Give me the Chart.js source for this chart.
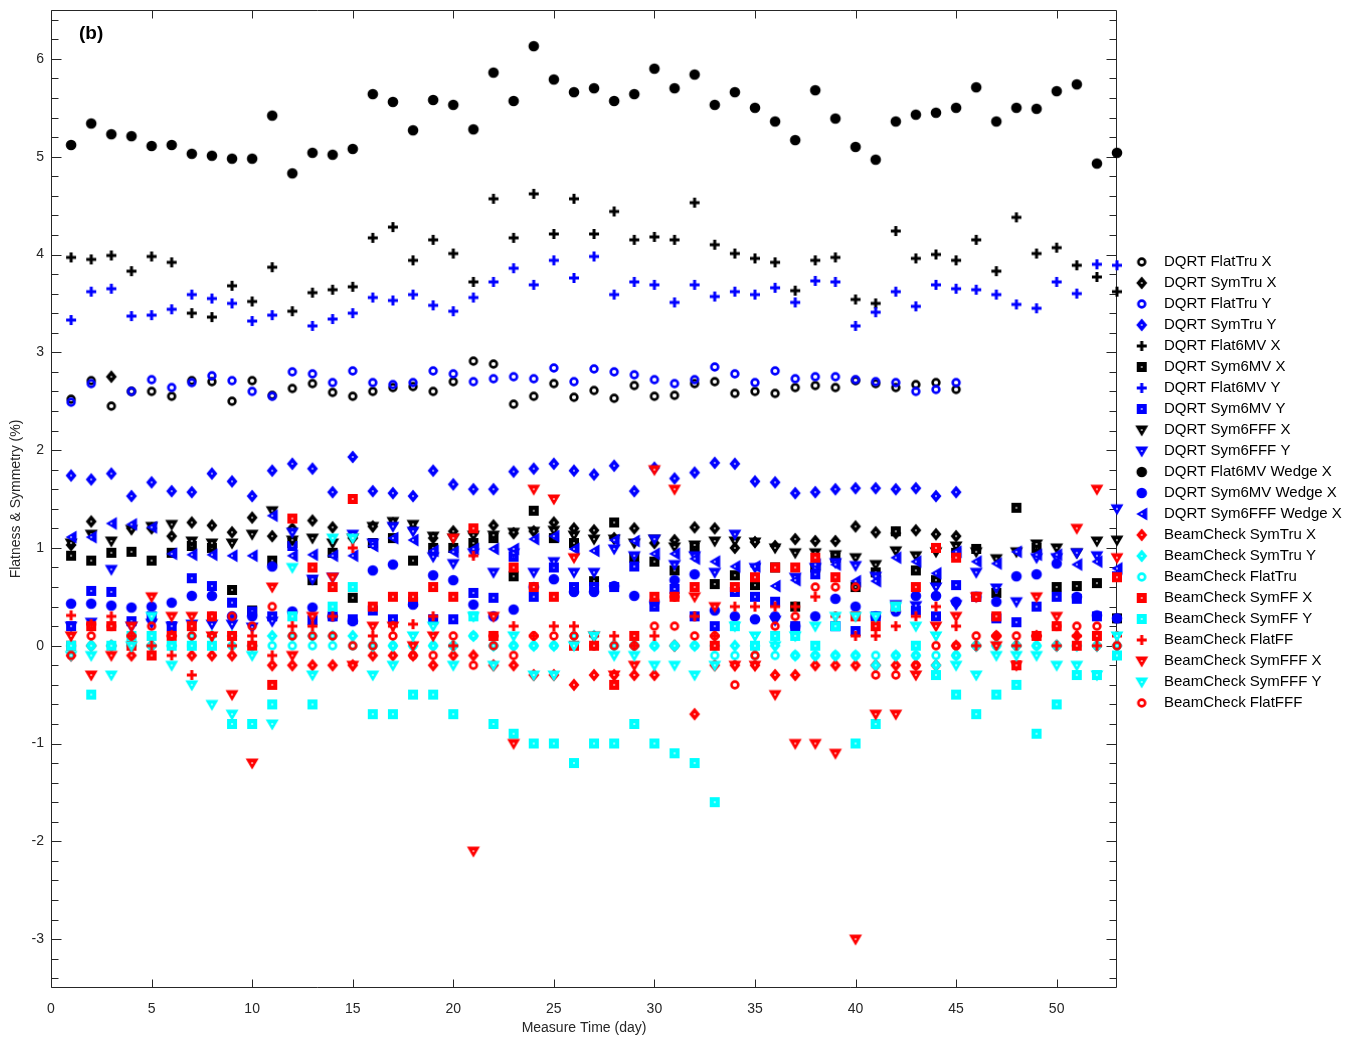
<!DOCTYPE html>
<html>
<head>
<meta charset="utf-8">
<script src="https://cdn.jsdelivr.net/npm/chart.js@4.4.1/dist/chart.umd.min.js"></script>
<style>
  html, body { margin: 0; padding: 0; background: #fff; }
</style>
</head>
<body>
<canvas id="chart" width="1355" height="1038"></canvas>
<script>
// measurement days (x categories)
const days = [1,2,3,4,5,6,7,8,9,10,11,12,13,14,15,16,17,18,19,20,21,22,23,24,25,26,27,28,29,30,
  31,32,33,34,35,36,37,38,39,40,41,42,43,44,45,46,47,48,49,50,51,52,53];
const xTicks = [0, 5, 10, 15, 20, 25, 30, 35, 40, 45, 50];
const yTicks = [-3, -2, -1, 0, 1, 2, 3, 4, 5, 6];

// DQRT series
const dqrtFlatTruX = [2.52,2.71,2.45,2.6,2.6,2.55,2.71,2.7,2.5,2.71, 2.56,2.63,2.68,2.59,2.55,2.6,2.64,2.65,2.6,2.7,
  2.91,2.88,2.47,2.55,2.68,2.54,2.61,2.53,2.66,2.55, 2.56,2.68,2.7,2.58,2.6,2.58,2.64,2.66,2.64,2.71,
  2.68,2.64,2.67,2.69,2.62, null,null,null,null,null,null,null,null];
const dqrtSymTruX = [1.03,1.27,2.75,1.2,1.2,1.12,1.26,1.23,1.16,1.31, 1.12,1.2,1.28,1.21,1.1,1.22,1.25,1.2,1.1,1.17,
  1.15,1.23,1.15,1.17,1.26,1.2,1.18,1.1,1.2,1.05, 1.08,1.21,1.2,1.0,1.06,1.02,1.09,1.07,1.07,1.22,
  1.16,1.15,1.18,1.14,1.12, null,null,null,null,null,null,null,null];
const dqrtFlatTruY = [2.49,2.68,null,2.6,2.72,2.64,2.69,2.76,2.71,2.6, 2.55,2.8,2.78,2.69,2.81,2.69,2.67,2.69,2.81,2.78,
  2.7,2.73,2.75,2.73,2.84,2.7,2.83,2.8,2.77,2.72, 2.68,2.72,2.85,2.78,2.69,2.81,2.73,2.75,2.75,2.72,
  2.7,2.69,2.6,2.62,2.69, null,null,null,null,null,null,null,null];
const dqrtSymTruY = [1.74,1.7,1.76,1.53,1.67,1.58,1.57,1.76,1.68,1.53, 1.79,1.86,1.81,1.57,1.93,1.58,1.56,1.53,1.79,1.65,
  1.6,1.6,1.78,1.81,1.86,1.79,1.75,1.84,1.58,1.82, 1.71,1.77,1.87,1.86,1.68,1.67,1.56,1.57,1.6,1.61,
  1.61,1.6,1.61,1.53,1.57, null,null,null,null,null,null,null,null];
const dqrtFlat6MVX = [3.97,3.95,3.99,3.83,3.98,3.92,3.4,3.36,3.68,3.52, 3.87,3.42,3.61,3.64,3.67,4.17,4.28,3.94,4.15,4.01,
  3.72,4.57,4.17,4.62,4.21,4.57,4.21,4.44,4.15,4.18, 4.15,4.53,4.1,4.01,3.96,3.92,3.63,3.94,3.97,3.54,
  3.5,4.24,3.96,4.0,3.94,4.15,3.83,4.38,4.01,4.07, 3.89,3.77,3.62];
const dqrtSym6MVX = [0.92,0.87,0.95,0.96,0.87,0.95,1.02,1.0,0.57,0.36, 0.87,1.05,0.67,0.95,0.49,1.05,1.1,0.87,1.0,1.0,
  1.05,1.1,0.71,1.38,1.1,1.05,0.66,1.26,0.9,0.86, 0.77,1.0,0.63,0.72,0.62,0.8,0.4,0.8,0.9,0.6,
  0.75,1.17,0.77,0.67,0.95,0.99,0.54,1.41,1.0,0.6, 0.61,0.64,0.28];
const dqrtFlat6MVY = [3.33,3.62,3.65,3.37,3.38,3.44,3.59,3.55,3.5,3.32, 3.38,null,3.27,3.34,3.4,3.56,3.53,3.59,3.48,3.42,
  3.56,3.72,3.86,3.69,3.94,3.76,3.98,3.59,3.72,3.69, 3.51,3.69,3.57,3.62,3.59,3.66,3.51,3.73,3.72,3.27,
  3.41,3.62,3.47,3.69,3.65,3.64,3.59,3.49,3.45,3.72, 3.6,3.9,3.89];
const dqrtSym6MVY = [0.2,0.56,0.55,0.25,0.3,0.2,0.69,0.61,0.44,0.35, 0.3,1.02,0.26,0.3,0.27,0.36,0.27,0.45,0.27,0.27,
  0.54,0.49,0.91,0.5,0.8,0.6,0.6,0.6,0.81,0.4, 0.58,0.3,0.2,0.55,0.5,0.45,0.2,0.73,0.2,0.15,
  0.3,0.4,0.36,0.3,0.62,0.5,0.28,0.24,0.4,0.5, 0.48,0.3,0.71];
const dqrtSym6FFFX = [1.05,1.14,1.07,1.19,1.22,1.24,1.07,1.05,1.05,1.14, 1.38,1.08,1.1,1.05,1.1,1.22,1.27,1.24,1.12,1.1,
  1.13,1.13,1.16,1.17,1.18,1.13,1.09,1.09,1.05,1.09, 1.01,1.03,1.07,1.07,1.06,1.0,0.95,0.95,0.93,0.9,
  0.83,0.97,0.92,0.96,1.02,0.96,0.89,0.96,1.04,1.0, 0.95,1.07,1.08];
const dqrtSym6FFFY = [0.2,0.24,0.78,0.2,0.23,0.2,0.22,0.22,0.22,0.19, 0.25,1.16,0.68,0.7,1.14,1.05,1.22,1.17,0.91,0.84,
  0.95,0.75,0.95,0.75,0.86,0.75,0.75,0.99,0.92,1.09, 0.83,0.92,0.75,1.14,0.8,0.26,0.7,0.8,0.85,0.82,
  0.71,0.42,0.41,0.6,0.42,0.75,0.59,0.45,0.9,0.9, 0.95,0.92,1.4];
const dqrtFlat6MVWedgeX = [5.12,5.34,5.23,5.21,5.11,5.12,5.03,5.01,4.98,4.98, 5.42,4.83,5.04,5.02,5.08,5.64,5.56,5.27,5.58,5.53,
  5.28,5.86,5.57,6.13,5.79,5.66,5.7,5.57,5.64,5.9, 5.7,5.84,5.53,5.66,5.5,5.36,5.17,5.68,5.39,5.1,
  4.97,5.36,5.43,5.45,5.5,5.71,5.36,5.5,5.49,5.67, 5.74,4.93,5.04];
const dqrtSym6MVWedgeX = [0.43,0.43,0.41,0.39,0.4,0.44,0.51,0.51,0.3,0.3, 0.81,0.35,0.39,0.3,0.25,0.77,0.83,0.42,0.72,0.67,
  0.42,0.3,0.37,0.6,0.68,0.55,0.55,0.61,0.51,0.45, 0.67,0.73,0.36,0.3,0.27,0.3,0.2,0.3,0.48,0.4,
  0.3,0.35,0.51,0.51,0.45,0.5,0.45,0.71,0.73,0.84, 0.5,0.31,0.28];
const dqrtSym6FFFWedgeX = [1.11,1.11,1.25,1.24,1.21,0.94,0.93,0.93,0.92,0.92, 1.33,0.92,0.93,0.92,0.92,1.02,1.1,1.08,0.97,0.96,
  0.99,0.99,0.99,1.09,1.12,0.99,0.97,1.08,1.07,0.94, 0.94,0.89,0.86,0.81,0.81,0.61,0.67,0.83,0.83,0.66,
  0.66,0.9,0.86,0.74,0.96,0.86,0.84,0.96,0.93,0.93, 0.83,0.86,0.79];

// BeamCheck series
const bcSymTruX = [-0.1,0.0,0.0,-0.1,0.0,0.1,-0.1,-0.1,-0.1,0.0, -0.2,-0.2,-0.2,-0.2,-0.2,-0.1,-0.1,-0.1,-0.2,-0.1,
  -0.1,-0.2,-0.2,-0.3,-0.3,-0.4,-0.3,-0.3,-0.3,-0.3, 0.0,-0.7,-0.2,-0.2,-0.2,-0.3,-0.3,-0.2,-0.2,-0.2,
  -0.2,-0.2,-0.2,-0.2,0.0,0.0,0.1,0.0,0.1,0.0, 0.1,0.0,0.0];
const bcSymTruY = [0.0,0.0,0.0,0.0,0.0,0.0,0.1,0.1,0.1,0.0, 0.1,0.1,0.1,0.1,0.1,0.0,0.0,0.0,0.0,0.0,
  0.1,0.0,0.0,0.0,0.0,0.1,0.1,0.0,0.0,0.0, 0.0,0.0,0.0,0.0,0.0,0.0,-0.1,-0.1,-0.1,-0.1,
  -0.2,-0.1,-0.1,-0.2,-0.1,0.0,0.0,0.0,0.0,0.0, 0.0,0.0,0.0];
const bcFlatTru = [0.0,0.0,0.0,0.0,0.0,0.0,0.0,0.0,0.0,0.0, 0.0,0.0,0.0,0.0,0.0,0.0,0.0,0.0,0.0,0.0,
  0.1,0.0,0.0,0.0,0.0,0.0,0.0,0.0,0.0,0.0, 0.0,0.0,-0.1,-0.1,-0.1,-0.1,-0.1,-0.1,-0.1,-0.1,
  -0.1,-0.1,-0.1,-0.1,-0.1,0.0,0.0,0.0,0.0,0.0, 0.0,0.0,0.0];
const bcSymFFX = [0.0,0.2,0.2,0.0,-0.1,0.1,0.2,0.3,0.1,0.0, -0.4,1.3,0.8,0.6,1.5,0.4,0.5,0.5,0.6,0.5,
  1.2,0.1,0.8,0.6,0.5,0.0,0.0,-0.4,0.1,0.5, 0.5,0.6,0.0,0.6,0.7,0.8,0.8,0.9,0.7,0.3,
  0.2,0.4,0.6,1.0,0.9,0.5,0.3,-0.2,0.1,0.2, 0.0,0.1,0.7];
const bcSymFFY = [0.0,-0.5,0.0,0.1,0.1,0.0,0.0,0.0,-0.8,-0.8, -0.6,0.3,-0.6,0.4,0.6,-0.7,-0.7,-0.5,-0.5,-0.7,
  0.3,-0.8,-0.9,-1.0,-1.0,-1.2,-1.0,-1.0,-0.8,-1.0, -1.1,-1.2,-1.6,0.2,0.0,0.1,0.1,0.0,0.2,-1.0,
  -0.8,0.4,0.0,-0.3,-0.5,-0.7,-0.5,-0.4,-0.9,-0.6, -0.3,-0.3,-0.1];
const bcFlatFF = [0.31,0.22,0.3,0.1,0.0,-0.1,-0.3,0.1,0.0,0.1, -0.1,0.2,0.2,0.3,1.0,0.1,0.2,0.22,0.3,0.0,
  0.92,0.1,0.2,0.1,0.2,0.2,0.1,0.1,0.0,0.1, 0.5,0.3,0.1,0.4,0.4,0.4,0.4,0.5,0.3,0.1,
  0.1,0.2,0.3,0.4,0.2,0.0,0.1,0.0,0.1,0.0, 0.1,0.0,0.1];
const bcSymFFFX = [0.1,-0.3,-0.1,0.2,0.5,0.3,0.3,0.1,-0.5,-1.2, 0.6,-0.1,0.3,0.7,-0.2,0.2,0.2,0.0,0.1,1.1,
  -2.1,0.3,-1.0,1.6,1.5,0.9,0.1,-0.3,-0.2,1.8, 1.6,0.5,0.4,-0.2,-0.2,-0.5,-1.0,-1.0,-1.1,-3.0,
  -0.7,-0.7,-0.3,0.2,0.3,0.5,0.0,-0.2,0.5,0.3, 1.2,1.6,0.9];
const bcSymFFFY = [-0.1,-0.1,-0.3,0.0,0.3,-0.2,-0.4,-0.6,-0.7,-0.1, -0.8,0.8,-0.3,1.1,1.1,-0.3,-0.2,0.1,0.2,-0.2,
  0.3,-0.2,0.1,-0.3,-0.3,0.0,0.1,-0.1,-0.1,-0.2, -0.2,-0.3,-0.2,0.2,0.1,0.0,0.1,0.2,0.3,0.3,
  0.3,0.4,0.2,0.1,-0.2,-0.3,-0.1,-0.1,-0.1,-0.2, -0.2,-0.3,0.1];
const bcFlatFFF = [-0.1,0.1,0.2,0.1,0.2,0.1,0.1,0.3,0.3,0.2, 0.4,0.1,0.1,0.1,0.0,0.0,0.1,-0.1,-0.1,0.1,
  -0.2,0.0,-0.1,0.1,0.1,0.1,0.0,0.0,0.0,0.2, 0.2,0.1,0.1,-0.4,-0.1,0.2,0.3,0.6,0.6,0.6,
  -0.3,-0.3,-0.2,0.0,0.0,0.1,0.1,0.1,0.1,0.2, 0.2,0.2,0.0];

const BLACK = "#000000", BLUE = "#0000ff", RED = "#ff0000", CYAN = "#00ffff";

// label, values, marker, colour (legend order)
const series = [
  ["DQRT FlatTru X", dqrtFlatTruX, "o", BLACK],
  ["DQRT SymTru X", dqrtSymTruX, "d", BLACK],
  ["DQRT FlatTru Y", dqrtFlatTruY, "o", BLUE],
  ["DQRT SymTru Y", dqrtSymTruY, "d", BLUE],
  ["DQRT Flat6MV X", dqrtFlat6MVX, "+", BLACK],
  ["DQRT Sym6MV X", dqrtSym6MVX, "s", BLACK],
  ["DQRT Flat6MV Y", dqrtFlat6MVY, "+", BLUE],
  ["DQRT Sym6MV Y", dqrtSym6MVY, "s", BLUE],
  ["DQRT Sym6FFF X", dqrtSym6FFFX, "v", BLACK],
  ["DQRT Sym6FFF Y", dqrtSym6FFFY, "v", BLUE],
  ["DQRT Flat6MV Wedge X", dqrtFlat6MVWedgeX, ".", BLACK],
  ["DQRT Sym6MV Wedge X", dqrtSym6MVWedgeX, ".", BLUE],
  ["DQRT Sym6FFF Wedge X", dqrtSym6FFFWedgeX, "<", BLUE],
  ["BeamCheck SymTru X", bcSymTruX, "d", RED],
  ["BeamCheck SymTru Y", bcSymTruY, "d", CYAN],
  ["BeamCheck FlatTru", bcFlatTru, "o", CYAN],
  ["BeamCheck SymFF X", bcSymFFX, "s", RED],
  ["BeamCheck SymFF Y", bcSymFFY, "s", CYAN],
  ["BeamCheck FlatFF", bcFlatFF, "+", RED],
  ["BeamCheck SymFFF X", bcSymFFFX, "v", RED],
  ["BeamCheck SymFFF Y", bcSymFFFY, "v", CYAN],
  ["BeamCheck FlatFFF", bcFlatFFF, "o", RED]
];

// matlab-like marker sprites
function makeMarker(shape, color) {
  const c = document.createElement("canvas");
  c.width = 16; c.height = 16;
  const g = c.getContext("2d");
  const m = 8;
  g.fillStyle = color;
  g.strokeStyle = color;
  g.beginPath();
  if (shape === "o") {
    g.lineWidth = 2.6;
    g.arc(m, m, 3.4, 0, Math.PI * 2);
    g.stroke();
    return c;
  }
  if (shape === ".") {
    g.arc(m, m, 5.3, 0, Math.PI * 2);
    g.fill();
    return c;
  }
  if (shape === "+") {
    g.fillRect(m - 1.5, m - 5, 3, 10);
    g.fillRect(m - 5, m - 1.5, 10, 3);
    return c;
  }
  if (shape === "s") g.rect(m - 5, m - 5, 10, 10);
  if (shape === "d") { g.moveTo(m, m - 6.5); g.lineTo(m + 5.5, m); g.lineTo(m, m + 6.5); g.lineTo(m - 5.5, m); }
  if (shape === "v") { g.moveTo(m - 6.5, m - 4.5); g.lineTo(m + 6.5, m - 4.5); g.lineTo(m, m + 6.5); }
  if (shape === "<") { g.moveTo(m - 5.5, m); g.lineTo(m + 5.5, m - 6.5); g.lineTo(m + 5.5, m + 6.5); }
  g.closePath();
  g.fill();
  g.fillStyle = "#fff";
  g.fillRect(m - 0.75, m - 0.75, 1.5, 1.5);
  return c;
}

const datasets = series.map(([label, vals, shape, color], i) => ({
  label,
  data: days.map((d, k) => ({ x: d, y: vals[k] })).filter(p => p.y !== null),
  pointStyle: makeMarker(shape, color),
  pointRadius: 5,
  backgroundColor: color,
  borderColor: color,
  showLine: false,
  clip: false,
  order: series.length - i   // later series drawn on top, like matlab
}));

const FONT = "'Liberation Sans', Arial, sans-serif";
Chart.defaults.font.family = FONT;
Chart.defaults.color = "#262626";

const noPad = s => { s.paddingTop = 0; s.paddingBottom = 0; s.paddingLeft = 0; s.paddingRight = 0; };

const frame = {
  id: "frame",
  afterInit(chart) {
    const lg = chart.legend;
    if (!lg) return;
    const fit = lg.fit;
    lg.fit = function () { fit.call(this); this.width = 234; };
  },
  afterLayout(chart) {
    const lg = chart.legend;
    if (lg) { lg.top = 248.5; lg.bottom = 1038; }
  },
  beforeDatasetsDraw(chart) {
    const { ctx, chartArea: a, scales: { x, y } } = chart;
    const L = Math.round(a.left) + 0.5, R = Math.round(a.right) - 0.5;
    const T = Math.round(a.top) + 0.5, B = Math.round(a.bottom) - 0.5;
    ctx.save();
    ctx.strokeStyle = "#262626";
    ctx.lineWidth = 1;
    ctx.beginPath();
    ctx.rect(L, T, R - L, B - T);
    for (let v = -34; v <= 64; v += 2) {
      const yy = Math.round(y.getPixelForValue(v / 10)) + 0.5;
      const len = v % 10 === 0 ? 10 : 7;
      ctx.moveTo(L, yy); ctx.lineTo(L + len, yy);
      ctx.moveTo(R, yy); ctx.lineTo(R - len, yy);
    }
    xTicks.forEach(v => {
      const xx = Math.round(x.getPixelForValue(v)) + 0.5;
      ctx.moveTo(xx, B); ctx.lineTo(xx, B - 8);
      ctx.moveTo(xx, T); ctx.lineTo(xx, T + 8);
    });
    ctx.stroke();
    ctx.restore();
  },
  afterDraw(chart) {
    const { ctx, chartArea: a } = chart;
    ctx.save();
    ctx.fillStyle = "#000";
    ctx.font = "bold 19px " + FONT;
    ctx.textBaseline = "middle";
    ctx.fillText("(b)", a.left + 28, a.top + 24);
    ctx.restore();
  }
};

new Chart(document.getElementById("chart"), {
  type: "scatter",
  data: { datasets },
  options: {
    responsive: false,
    animation: false,
    events: [],
    layout: { padding: { top: 10, right: 0, bottom: 0, left: 0 } },
    scales: {
      x: {
        type: "linear",
        min: 0,
        max: 53,
        afterBuildTicks: s => { s.ticks = xTicks.map(v => ({ value: v })); },
        afterFit: s => { s.height = 50; noPad(s); },
        grid: { display: false, drawTicks: false },
        border: { display: false },
        ticks: { padding: 13, font: { size: 14 }, color: "#262626", maxRotation: 0 },
        title: { display: true, text: "Measure Time (day)", font: { size: 14 }, color: "#262626", padding: { top: 4, bottom: 1 } }
      },
      y: {
        type: "linear",
        min: -3.5,
        max: 6.5,
        afterBuildTicks: s => { s.ticks = yTicks.map(v => ({ value: v })); },
        afterFit: s => { s.width = 51; noPad(s); },
        grid: { display: false, drawTicks: false },
        border: { display: false },
        ticks: { padding: 7, font: { size: 14 }, color: "#262626" },
        title: { display: true, text: "Flatness & Symmetry (%)", font: { size: 14 }, color: "#262626", padding: { top: 8, bottom: 0 } }
      },
      yRight: {
        type: "linear",
        position: "right",
        min: -3.5,
        max: 6.5,
        afterFit: s => { s.width = 4; noPad(s); },
        grid: { display: false, drawTicks: false },
        border: { display: false },
        ticks: { display: false }
      }
    },
    plugins: {
      tooltip: { enabled: false },
      legend: {
        position: "right",
        align: "start",
        labels: {
          usePointStyle: true,
          pointStyleWidth: 29.5,
          padding: 6,
          color: "#000",
          font: { size: 15 },
          sort: (a, b) => a.datasetIndex - b.datasetIndex
        }
      }
    }
  },
  plugins: [frame]
});
</script>
</body>
</html>
